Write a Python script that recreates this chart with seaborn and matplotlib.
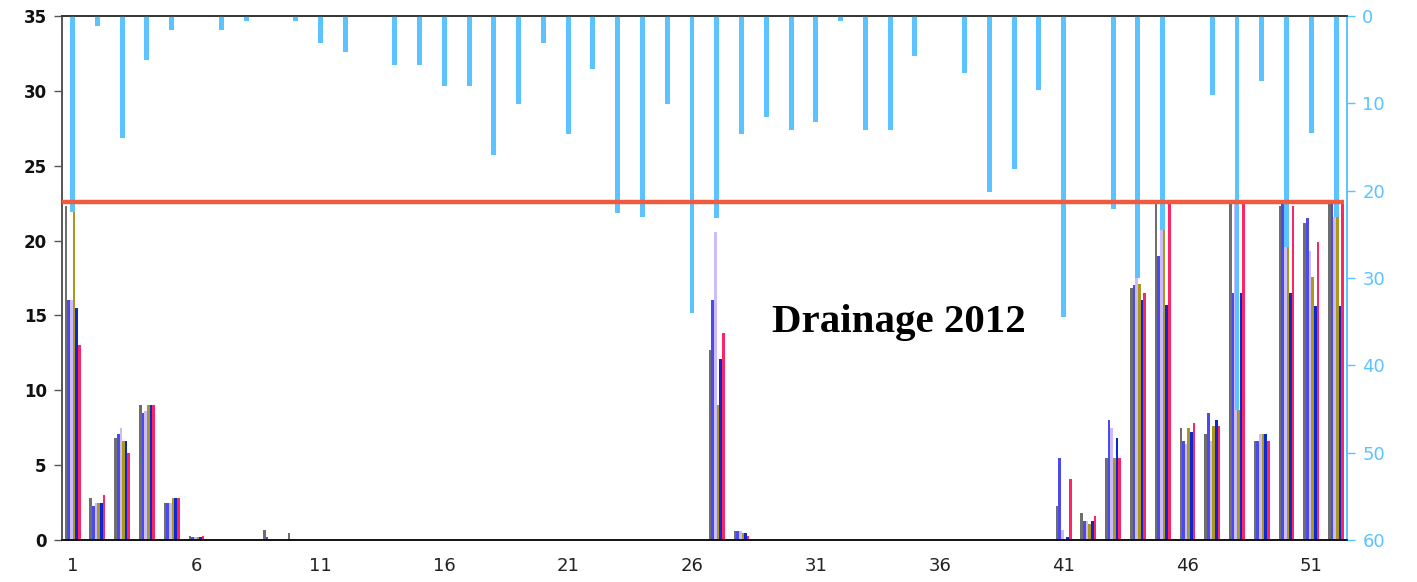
import numpy as np
import pandas as pd
import matplotlib
matplotlib.use("Agg")
import matplotlib.pyplot as plt
import matplotlib.transforms as mtransforms
import seaborn as sns

weeks = list(range(1, 53))

gray = [22.3, 2.8, 6.8, 9.0, 2.5, 0.3, 0, 0, 0.7, 0.5,
        0, 0, 0, 0, 0, 0, 0, 0, 0, 0, 0, 0, 0, 0, 0, 0,
        12.7, 0.6,
        0, 0, 0, 0, 0, 0, 0, 0, 0, 0, 0, 0,
        2.3, 1.8, 5.5, 16.8, 22.5, 7.5, 7.1, 22.5, 6.6, 22.3, 21.2, 22.5]
blue = [16.0, 2.3, 7.1, 8.5, 2.5, 0.2, 0, 0, 0.2, 0.1,
        0, 0, 0, 0, 0, 0, 0, 0, 0, 0, 0, 0, 0, 0, 0, 0,
        16.0, 0.6,
        0, 0, 0, 0, 0, 0, 0, 0, 0, 0, 0, 0,
        5.5, 1.3, 8.0, 17.0, 19.0, 6.6, 8.5, 16.5, 6.6, 22.5, 21.5, 22.5]
lavender = [16.0, 2.5, 7.5, 8.6, 2.5, 0.2, 0, 0, 0, 0,
            0, 0, 0, 0, 0, 0, 0, 0, 0, 0, 0, 0, 0, 0, 0, 0,
            20.6, 0.6,
            0, 0, 0, 0, 0, 0, 0, 0, 0, 0, 0, 0,
            0.7, 1.3, 7.5, 18.2, 22.5, 6.4, 6.6, 22.5, 7.1, 22.5, 19.3, 21.6]
gold = [21.9, 2.5, 6.6, 9.0, 2.8, 0.2, 0, 0, 0, 0,
        0, 0, 0, 0, 0, 0, 0, 0, 0, 0, 0, 0, 0, 0, 0, 0,
        9.0, 0.5,
        0, 0, 0, 0, 0, 0, 0, 0, 0, 0, 0, 0,
        0, 1.1, 5.5, 17.1, 20.7, 7.5, 7.6, 8.7, 7.1, 19.9, 17.6, 21.6]
darkblue = [15.5, 2.5, 6.6, 9.0, 2.8, 0.2, 0, 0, 0, 0,
            0, 0, 0, 0, 0, 0, 0, 0, 0, 0, 0, 0, 0, 0, 0, 0,
            12.1, 0.45,
            0, 0, 0, 0, 0, 0, 0, 0, 0, 0, 0, 0,
            0.2, 1.3, 6.8, 16.0, 15.7, 7.2, 8.0, 16.5, 7.1, 16.5, 15.6, 15.6]
red = [13.0, 3.0, 5.8, 9.0, 2.8, 0.3, 0, 0, 0, 0,
       0, 0, 0, 0, 0, 0, 0, 0, 0, 0, 0, 0, 0, 0, 0, 0,
       13.8, 0.3,
       0, 0, 0, 0, 0, 0, 0, 0, 0, 0, 0, 0,
       4.1, 1.6, 5.5, 16.5, 22.5, 7.8, 7.6, 22.5, 6.6, 22.3, 19.9, 22.5]

rain = [22.5, 1.1, 14.0, 5.0, 1.6, 0, 1.6, 0.6, 0, 0.6,
        3.1, 4.1, 0, 5.6, 5.6, 8.0, 8.0, 15.9, 10.1, 3.1,
        13.5, 6.1, 22.6, 23.0, 10.1, 34.0, 23.1, 13.5, 11.6, 13.1,
        12.1, 0.6, 13.1, 13.1, 4.6, 0, 6.5, 20.2, 17.5, 8.5,
        34.5, 0, 22.1, 30.0, 24.5, 0, 9.0, 45.1, 7.4, 26.4,
        13.4, 23.0]

threshold = 22.6
title_text = "Drainage 2012"

series_names = ["S1", "S2", "S3", "S4", "S5", "S6"]
series_values = [gray, blue, lavender, gold, darkblue, red]
palette = {"S1": "#6E6E6E", "S2": "#4A4AEE", "S3": "#CBBBFF",
           "S4": "#AE981C", "S5": "#0A28CF", "S6": "#FF2466"}
rain_color = "#5BC3FF"

rows = []
for name, vals in zip(series_names, series_values):
    for w, v in zip(weeks, vals):
        rows.append({"week": str(w), "value": v, "series": name})
df = pd.DataFrame(rows)
rain_df = pd.DataFrame({"week": [str(w) for w in weeks], "rain": rain})
order = [str(w) for w in weeks]

sns.set_style("white")
fig = plt.figure(figsize=(14.17, 5.82), dpi=100)
ax = fig.add_axes([62 / 1417, 42 / 582, (1347 - 62) / 1417, (540 - 16) / 582])

sns.barplot(data=df, x="week", y="value", hue="series", order=order,
            hue_order=series_names, palette=palette, width=0.64,
            saturation=1, legend=False, ax=ax, errorbar=None, linewidth=0)

ax2 = ax.twinx()
sns.barplot(data=rain_df, x="week", y="rain", order=order, color=rain_color,
            width=0.2, saturation=1, ax=ax2, errorbar=None, linewidth=0)

xlim = (-0.43, 51.44)
ax.set_xlim(*xlim)
ax2.set_xlim(*xlim)
ax.set_ylim(0, 35)
ax2.set_ylim(60, 0)

ax.set_yticks(np.arange(0, 36, 5))
ax.set_yticklabels([str(v) for v in range(0, 36, 5)], fontsize=12,
                   fontweight="bold", color="#111111")
tick_pos = list(range(0, 52, 5))
ax.set_xticks(tick_pos)
ax.set_xticklabels([order[i] for i in tick_pos], fontsize=13, color="#222222")
ax.tick_params(axis="x", length=0, pad=12)
ax.tick_params(axis="y", length=6, width=1, color="#555555", direction="out", pad=5, left=True)

ax2.set_yticks(np.arange(0, 61, 10))
ax2.set_yticklabels([str(v) for v in range(0, 61, 10)], fontsize=13, color=rain_color)
ax2.tick_params(axis="y", length=6, width=1, color=rain_color, direction="out", pad=5)

ax.set_xlabel("")
ax.set_ylabel("")
ax2.set_xlabel("")
ax2.set_ylabel("")

for a in (ax, ax2):
    a.spines["left"].set_color("#555555")
    a.spines["bottom"].set_color("#111111")
    a.spines["top"].set_color("#333333")
    a.spines["right"].set_color(rain_color)
    for s in a.spines.values():
        s.set_visible(True)
        s.set_linewidth(1.2)

trans = mtransforms.blended_transform_factory(ax2.transAxes, ax.transData)
ax2.plot([0, 0.998], [threshold, threshold], transform=trans, color="#F05A3E",
         lw=3.2, solid_capstyle="butt", zorder=10)

ax2.text(0.651, 0.415, title_text, transform=ax2.transAxes, ha="center", va="center",
         fontsize=29.5, fontweight="bold", family="Liberation Serif", color="black")

fig.savefig("out.png", dpi=100)
